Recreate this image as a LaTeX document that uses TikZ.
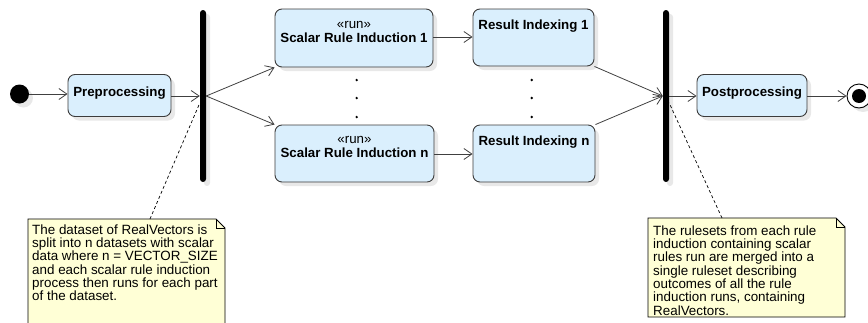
\documentclass[tikz,border=0pt]{standalone}
\usepackage{fontspec}
\setmainfont{Liberation Sans}
\usetikzlibrary{arrows.meta,shadows,calc}

\definecolor{boxfill}{RGB}{218,239,253}
\definecolor{boxline}{RGB}{60,60,60}
\definecolor{flowgray}{RGB}{64,64,64}
\definecolor{shadowgray}{RGB}{232,232,232}
\definecolor{notefill}{RGB}{255,255,214}

\tikzset{
  softshadow/.style={drop shadow={shadow xshift=4pt, shadow yshift=-4pt, fill=shadowgray, opacity=1}},
  action/.style={draw=boxline, fill=boxfill, rounded corners=7pt, line width=0.9pt, inner sep=0pt, softshadow},
  lbl/.style={font=\fontsize{13.3}{14.5}\selectfont, align=center, inner sep=0pt},
  blbl/.style={lbl, font=\fontsize{13.3}{14.5}\selectfont\bfseries},
  bar/.style={fill=black, rounded corners=3pt, minimum width=6pt, minimum height=172pt, inner sep=0pt, softshadow},
  flow/.style={draw=flowgray, line width=0.8pt, -{Straight Barb[length=8pt,width=11pt]}},
  notebox/.style={draw=black, fill=notefill, line width=0.8pt},
  notetext/.style={font=\fontsize{13.4}{13.3}\selectfont, align=left, inner sep=0pt, anchor=north west},
  anchorline/.style={draw=black, line width=0.7pt, dash pattern=on 3pt off 2.5pt},
  dotmark/.style={circle, fill=black, minimum size=2.6pt, inner sep=0pt}
}

\begin{document}
\begin{tikzpicture}[x=1pt,y=-1pt]
\useasboundingbox (0,0) rectangle (868,322);
\clip (0,0) rectangle (868,322);

% start and end
\node[circle, fill=black, minimum size=19pt, inner sep=0pt, softshadow] (start) at (19.5,94) {};
\node[circle, draw=black, fill=white, line width=0.9pt, minimum size=24pt, inner sep=0pt, softshadow] (final) at (859,96) {};
\node[circle, fill=black, minimum size=14pt, inner sep=0pt] (finaldot) at (final.center) {};

% actions
\node[action, minimum width=103pt, minimum height=42pt] (pre) at (119.5,95.5) {};
\node[blbl] (pret) at (119.5,93) {Preprocessing};

\node[action, minimum width=158pt, minimum height=58pt] (sri1) at (354,38) {};
\node[lbl] (sri1t) at (354,32) {«run»\\\textbf{Scalar Rule Induction 1}};

\node[action, minimum width=159pt, minimum height=57pt] (srin) at (354.5,153.5) {};
\node[lbl] (srint) at (354.5,147) {«run»\\\textbf{Scalar Rule Induction n}};

\node[action, minimum width=121pt, minimum height=57pt] (ri1) at (533.5,37.5) {};
\node[blbl] (ri1t) at (533.5,26.5) {Result Indexing 1};

\node[action, minimum width=122pt, minimum height=57pt] (rin) at (534,153.5) {};
\node[blbl] (rint) at (534,142) {Result Indexing n};

\node[action, minimum width=110pt, minimum height=42pt] (post) at (752,95.5) {};
\node[blbl] (postt) at (752,93) {Postprocessing};

% fork and join bars
\node[bar] (fork) at (203,96) {};
\node[bar] (join) at (666,96) {};

% ellipsis dots
\foreach \i/\yy in {1/80,2/98,3/117} {
  \node[dotmark] (dl\i) at (356.7,\yy) {};
  \node[dotmark] (dr\i) at (531.7,\yy) {};
}

% control flow
\draw[flow] (start.east) -- (pre.west |- start.east);
\draw[flow] (pre.east |- 0,96) -- (fork.west |- 0,96);
\draw[flow] (fork.east |- 0,96) -- (sri1.south west);
\draw[flow] (fork.east |- 0,96) -- (srin.north west);
\draw[flow] (sri1.east |- 0,37) -- (ri1.west |- 0,37);
\draw[flow] (srin.east |- 0,154) -- (rin.west |- 0,154);
\draw[flow] (ri1.south east) -- (join.west |- 0,96);
\draw[flow] (rin.north east) -- (join.west |- 0,96);
\draw[flow] (join.east |- 0,96) -- (post.west |- 0,96);
\draw[flow] (post.east |- 0,96) -- (final.west);

% left note
\draw[notebox] (28,219) -- (216,219) -- (225,228) -- (225,330) -- (28,330) -- cycle;
\draw[black, line width=0.8pt] (216,219) -- (216,228) -- (225,228);
\coordinate (note1top) at (150,219);
\node[notetext] (note1) at (32,224.3) {The dataset of RealVectors is\\split into n datasets with scalar\\data where n = VECTOR\_SIZE\\and each scalar rule induction\\process then runs for each part\\of the dataset.};
\draw[anchorline] (note1top) -- (fork.west |- 0,103);

% right note
\draw[notebox] (648,218) -- (836,218) -- (845,227) -- (845,317) -- (648,317) -- cycle;
\draw[black, line width=0.8pt] (836,218) -- (836,227) -- (845,227);
\coordinate (note2top) at (722,218);
\node[notetext] (note2) at (653,225.3) {The rulesets from each rule\\induction containing scalar\\rules run are merged into a\\single ruleset describing\\outcomes of all the rule\\induction runs, containing\\RealVectors.};
\draw[anchorline] (note2top) -- (join.east |- 0,103);
\end{tikzpicture}
\end{document}
